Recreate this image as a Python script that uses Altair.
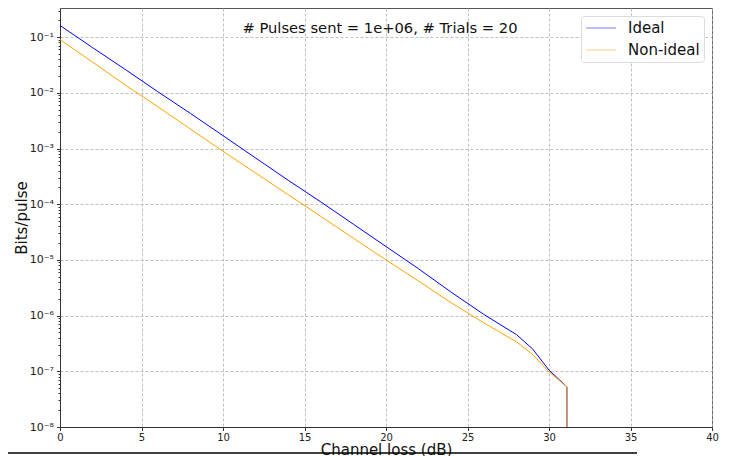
import altair as alt
import pandas as pd

# Channel loss (dB) at which values were read
loss_db = [0, 2, 4, 6, 8, 10, 12, 14, 16, 18, 20, 22, 24, 26, 27, 28, 29, 30, 31.1]

# Bits/pulse, ideal detector
ideal = [0.162, 0.0646, 0.0263, 0.01047, 4.27e-3, 1.70e-3, 6.76e-4, 2.69e-4,
         1.10e-4, 4.37e-5, 1.74e-5, 6.92e-6, 2.63e-6, 1.05e-6, 6.92e-7, 4.57e-7,
         2.51e-7, 1.05e-7, 5.25e-8]

# Bits/pulse, non-ideal detector
non_ideal = [0.0902, 0.0355, 0.0138, 5.62e-3, 2.24e-3, 8.91e-4, 3.63e-4, 1.48e-4,
             6.03e-5, 2.45e-5, 1.0e-5, 4.17e-6, 1.70e-6, 7.41e-7, 5.01e-7, 3.39e-7,
             2.0e-7, 9.77e-8, 5.25e-8]

# rate falls to zero beyond the last loss value (drawn as a drop off the log axis)
zero_loss = 31.1
zero_rate = 1e-30

series_names = ["Ideal", "Non-ideal"]
series_colors = ["#0000ff", "#ffa500"]
annotation = "# Pulses sent = 1e+06, # Trials = 20"

x_ticks = [0, 5, 10, 15, 20, 25, 30, 35, 40]
y_ticks = [1e-8, 1e-7, 1e-6, 1e-5, 1e-4, 1e-3, 1e-2, 1e-1]
y_minor = [m * d for d in [1e-8, 1e-7, 1e-6, 1e-5, 1e-4, 1e-3, 1e-2, 1e-1]
           for m in range(2, 10) if m * d < 0.34]

rows = []
for name, vals in zip(series_names, [ideal, non_ideal]):
    for i, (x, v) in enumerate(zip(loss_db, vals)):
        rows.append({"loss": x, "rate": v, "series": name, "order": i})
    rows.append({"loss": zero_loss, "rate": zero_rate, "series": name, "order": len(vals)})
df = pd.DataFrame(rows)

W, H = 652, 419
xs = alt.Scale(domain=[0, 40], nice=False, zero=False)
ys = alt.Scale(type="log", domain=[1e-8, 0.333], nice=False)

sup = "['⁰','¹','²','³','⁴','⁵','⁶','⁷','⁸','⁹']"
label_expr = f"'10⁻' + {sup}[round(-log(datum.value)/LN10)]"

x_enc = alt.X("loss:Q", scale=xs, title="Channel loss (dB)",
              axis=alt.Axis(values=x_ticks, grid=True, gridColor="#b0b0b0",
                            gridDash=[3, 2], gridWidth=0.8, tickSize=3.5,
                            tickColor="#333", domainColor="#333", labelFontSize=10,
                            labelColor="#222", labelPadding=2, titleFontSize=15,
                            titleFontWeight="normal", titlePadding=0,
                            titleColor="#111", labelFlush=False))

lines = alt.Chart(df).mark_line(strokeWidth=1, clip=True).encode(
    x=x_enc,
    y=alt.Y("rate:Q", scale=ys, title="Bits/pulse",
            axis=alt.Axis(values=y_ticks, labelExpr=label_expr, grid=True,
                          gridColor="#b0b0b0", gridDash=[3, 2], gridWidth=0.8,
                          tickSize=3.5, tickColor="#333", domainColor="#333",
                          labelFontSize=11, labelColor="#222", labelPadding=3,
                          titleFontSize=15, titleFontWeight="normal",
                          titleColor="#111", titlePadding=0)),
    color=alt.Color("series:N",
                    scale=alt.Scale(domain=series_names, range=series_colors),
                    legend=alt.Legend(title=None, orient="none", legendX=521,
                                      legendY=8, symbolType="M-2,0H2",
                                      symbolSize=225, symbolStrokeWidth=1,
                                      symbolOpacity=0.5, symbolOffset=8,
                                      labelFontSize=15, labelColor="#111",
                                      rowPadding=6, labelOffset=19, padding=4,
                                      fillColor="white", strokeColor="#dddddd",
                                      cornerRadius=3)),
    order="order:Q",
)

minor = alt.Chart(df).mark_line(opacity=0).encode(
    x=x_enc,
    y=alt.Y("rate:Q", scale=ys,
            axis=alt.Axis(orient="left", values=y_minor, labels=False, grid=False,
                          domain=False, tickSize=2, tickColor="#333", title=None)),
    detail="series:N",
)

text = alt.Chart(pd.DataFrame({"t": [annotation]})).mark_text(
    fontSize=14.7, color="#111", baseline="middle", align="center"
).encode(x=alt.value(320), y=alt.value(21), text="t:N")

underline = alt.Chart(pd.DataFrame({"k": [0]})).mark_rule(
    color="black", strokeWidth=1.5
).encode(x=alt.value(-52), x2=alt.value(577), y=alt.value(445))

chart = alt.layer(lines, minor, text, underline).resolve_axis(y="independent").properties(
    width=W, height=H,
    autosize=alt.AutoSizeParams(type="none"),
    padding={"left": 52, "top": 0, "right": 9, "bottom": 29},
).configure(font="DejaVu Sans").configure_view(stroke="#555", strokeWidth=1)

chart.save("out.html", embed_options={"renderer": "svg", "actions": False})
